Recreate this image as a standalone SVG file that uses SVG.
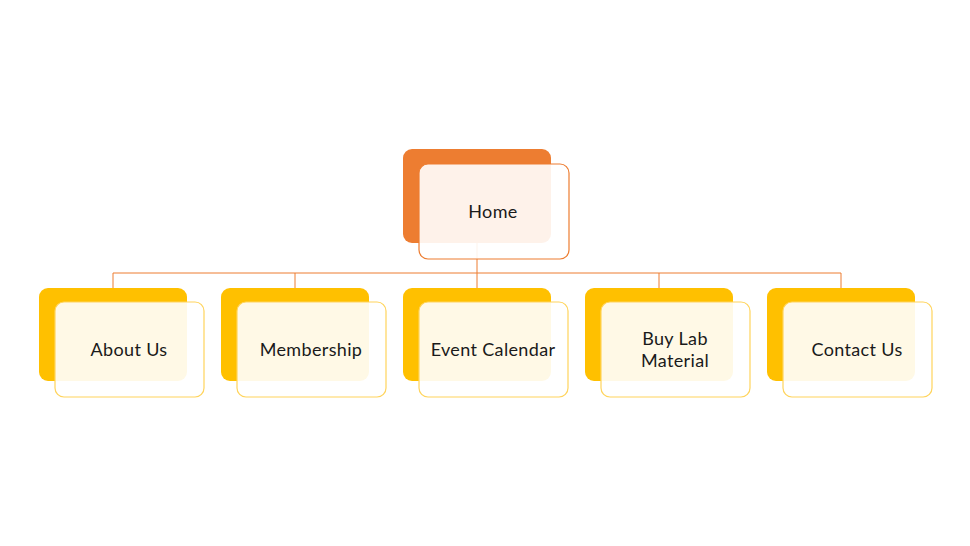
<svg xmlns="http://www.w3.org/2000/svg" width="970" height="546" viewBox="0 0 970 546">
<style>
.bo{fill:#ED7D31}
.by{fill:#FFC000}
.fo{fill:#FFFFFF;fill-opacity:0.9;stroke:#ED7D31;stroke-width:1.2}
.fy{fill:#FFFFFF;fill-opacity:0.9;stroke:#FFD45C;stroke-width:1.2}
.t{font-family:Lato,"Noto Sans",sans-serif;font-size:18px;letter-spacing:0.35px;fill:#1a1a1a;text-anchor:middle}
.c{fill:none;stroke:#ED7D31;stroke-width:1}
</style>
<rect width="970" height="546" fill="#FFFFFF"/>
<g id="connectors">
<path class="c" d="M477 243V273M113 273H841M113 273V288M295 273V288M477 273V288M659 273V288M841 273V288"/>
</g>
<g id="home">
<rect class="bo" x="403" y="149" width="148" height="94" rx="9"/>
<rect class="fo" x="419" y="164" width="150" height="95" rx="9"/>
<text class="t" x="493" y="218">Home</text>
</g>
<g id="about">
<rect class="by" x="39" y="288" width="148" height="93" rx="9"/>
<rect class="fy" x="55" y="302" width="149" height="95" rx="9"/>
<text class="t" x="129" y="356">About Us</text>
</g>
<g id="membership">
<rect class="by" x="221" y="288" width="148" height="93" rx="9"/>
<rect class="fy" x="237" y="302" width="149" height="95" rx="9"/>
<text class="t" x="311" y="356">Membership</text>
</g>
<g id="event">
<rect class="by" x="403" y="288" width="148" height="93" rx="9"/>
<rect class="fy" x="419" y="302" width="149" height="95" rx="9"/>
<text class="t" x="493" y="356">Event Calendar</text>
</g>
<g id="buylab">
<rect class="by" x="585" y="288" width="148" height="93" rx="9"/>
<rect class="fy" x="601" y="302" width="149" height="95" rx="9"/>
<text class="t" x="675" y="345">Buy Lab</text>
<text class="t" x="675" y="367">Material</text>
</g>
<g id="contact">
<rect class="by" x="767" y="288" width="148" height="93" rx="9"/>
<rect class="fy" x="783" y="302" width="149" height="95" rx="9"/>
<text class="t" x="857" y="356">Contact Us</text>
</g>
</svg>
